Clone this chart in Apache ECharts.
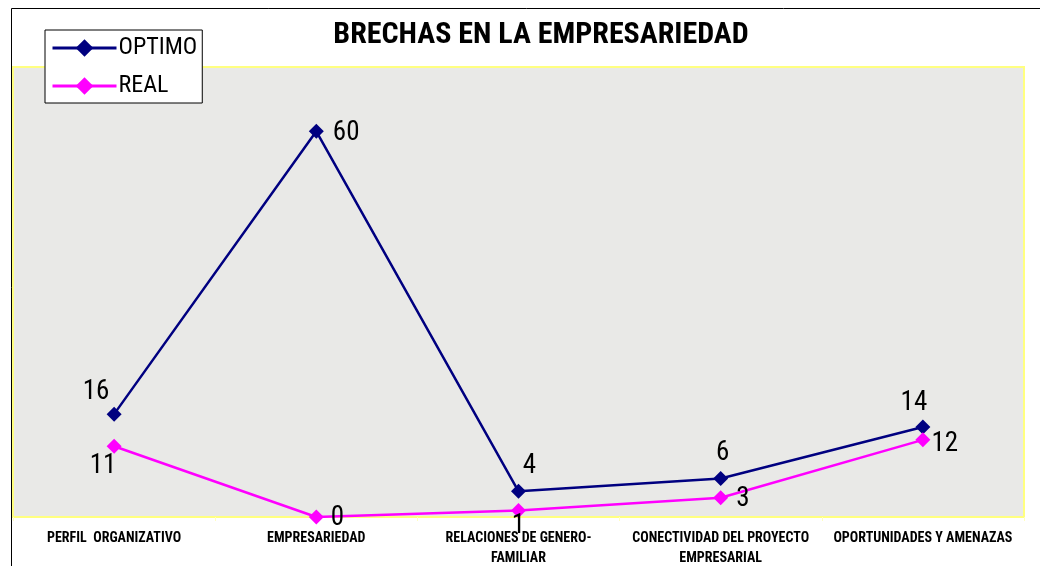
<!DOCTYPE html>
<html><head><meta charset="utf-8">
<script src="https://cdn.jsdelivr.net/npm/echarts@6/dist/echarts.min.js"></script>
<style>html,body{margin:0;padding:0;background:#fff}#c{width:1040px;height:566px}</style>
</head><body><div id="c"></div>
<script>
const categories = ['PERFIL  ORGANIZATIVO', 'EMPRESARIEDAD', 'RELACIONES DE GENERO-\nFAMILIAR', 'CONECTIVIDAD DEL PROYECTO\nEMPRESARIAL', 'OPORTUNIDADES Y AMENAZAS'];
const optimo = [16, 60, 4, 6, 14];
const real = [11, 0, 1, 3, 12];

const optLabelPos = [['top', [-18, 4]], ['right', [4, 2]], ['top', [11, 1]], ['top', [2, 1]], ['top', [-9, 2]]];
const realLabelPos = [['bottom', [-11, -6]], ['right', [2, 1]], ['bottom', [0, -10]], ['right', [3, 2]], ['right', [-4, 4]]];

const FONT = '"Roboto Condensed", "Liberation Sans", Arial, sans-serif';
function mk(vals, pos) {
  return vals.map((v, i) => ({ value: v, label: { position: pos[i][0], offset: pos[i][1] } }));
}
const chart = echarts.init(document.getElementById('c'));
chart.setOption({
  animation: false,
  backgroundColor: '#fff',
  title: { text: 'BRECHAS EN LA EMPRESARIEDAD', left: 536, top: 15, textAlign: 'center',
    textStyle: { fontFamily: FONT, fontWeight: 'bold', fontSize: 30, color: '#000' } },
  graphic: [{ type: 'rect', shape: { x: 11.5, y: 8.5, width: 1040, height: 570 }, style: { fill: 'none', stroke: '#000', lineWidth: 1 }, z: 100 }],
  legend: {
    orient: 'vertical', left: 45, top: 30, itemGap: 14, itemWidth: 64, itemHeight: 22,
    padding: [6, 5, 5, 6], backgroundColor: '#fff', borderColor: '#000', borderWidth: 1,
    lineStyle: { width: 3 },
    textStyle: { fontFamily: FONT, fontSize: 24, color: '#000', padding: [0, 0, 0, -3] },
    data: ['OPTIMO', 'REAL'], z: 10
  },
  grid: { left: 13, right: 16, top: 67, bottom: 49, outerBoundsMode: 'none', show: true, backgroundColor: '#e9e9e7', borderColor: '#ffff80', borderWidth: 2 },
  xAxis: { type: 'category', data: categories, boundaryGap: true,
    axisLine: { show: true, lineStyle: { color: '#ffff80', width: 2 } },
    axisTick: { show: true, length: 4, lineStyle: { color: '#ffffc0' } },
    axisLabel: { fontFamily: FONT, fontWeight: 'bold', fontSize: 14, color: '#000', margin: 11, lineHeight: 20, interval: 0 } },
  yAxis: { type: 'value', min: 0, max: 70, show: false, splitLine: { show: false } },
  series: [
    { name: 'OPTIMO', type: 'line', data: mk(optimo, optLabelPos), color: '#000080',
      lineStyle: { width: 2.5, color: '#000080' }, symbol: 'diamond', symbolSize: 15,
      itemStyle: { color: '#000080' },
      label: { show: true, fontFamily: FONT, fontSize: 27, color: '#000' } },
    { name: 'REAL', type: 'line', data: mk(real, realLabelPos), color: '#ff00ff',
      lineStyle: { width: 2.5, color: '#ff00ff' }, symbol: 'diamond', symbolSize: 15,
      itemStyle: { color: '#ff00ff' },
      label: { show: true, fontFamily: FONT, fontSize: 27, color: '#000' } }
  ]
});
</script></body></html>
